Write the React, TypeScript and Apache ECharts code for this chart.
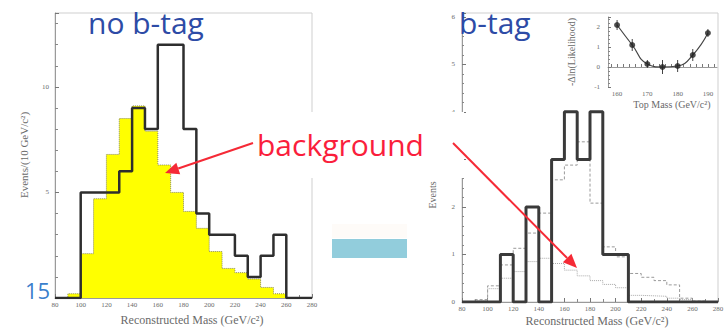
import React, { useEffect, useRef } from "react";
import * as echarts from "echarts";

// Histogram bin edges (GeV/c^2), 10 GeV bins
const binEdges = [80, 90, 100, 110, 120, 130, 140, 150, 160, 170, 180, 190, 200, 210, 220, 230, 240, 250, 260, 270, 280];
// Left panel: no b-tag
const noTagEvents = [0, 0, 5, 5, 5, 6, 9, 8, 12, 12, 8, 4, 3, 3, 2, 1, 2, 3, 0, 0];
const noTagBackground = [0, 0.2, 2.1, 4.7, 6.8, 8.5, 9.1, 7.9, 6.3, 5.0, 4.1, 3.3, 2.2, 1.4, 1.2, 0.9, 0.5, 0.2, 0, 0];
// Right panel: b-tag
const bTagEvents = [0, 0, 0, 1, 0, 2, 0, 3, 4, 3, 4, 1, 1, 0, 0, 0, 0, 0, 0, 0];
const bTagExpected = [0, 0.05, 0.34, 0.78, 1.13, 1.45, 1.87, 2.57, 2.88, 3.37, 2.08, 1.16, 0.95, 0.6, 0.52, 0.45, 0.36, 0.08, 0.02, 0];
const bTagBackground = [0, 0.03, 0.28, 0.5, 0.64, 0.85, 0.92, 0.81, 0.67, 0.55, 0.45, 0.37, 0.3, 0.14, 0.13, 0.12, 0.08, 0.05, 0.02, 0];
// Inset: likelihood scan
const topMass = [160, 165, 170, 175, 180, 185, 190];
const deltaLnL = [2.1, 1.1, 0.15, 0.0, 0.05, 0.6, 1.7];
const deltaLnLErr = [0.25, 0.3, 0.2, 0.35, 0.3, 0.3, 0.2];
const insetMassLabels = [160, 170, 180, 190];
const insetMassTicks = [158, 160, 162, 164, 166, 168, 170, 172, 174, 176, 178, 180, 182, 184, 186, 188, 190, 192];

const stepPoints = (edges: number[], vals: number[]) => [
  ...vals.map((v, i) => [edges[i], v]),
  [edges[vals.length], vals[vals.length - 1]],
];

const SERIF = "'Liberation Serif', 'DejaVu Serif', serif";
const SANS = "'Open Sans', Lato, sans-serif";
const AX = "#9a9a9a";
const LAB = "#6a6a6a";

function arrow(x1: number, y1: number, x2: number, y2: number, color: string) {
  const dx = x2 - x1, dy = y2 - y1;
  const len = Math.sqrt(dx * dx + dy * dy);
  const ux = dx / len, uy = dy / len;
  const hl = 14, hw = 6;
  const bx = x2 - ux * hl, by = y2 - uy * hl;
  const px = -uy * hw, py = ux * hw;
  return [
    { type: "line", z: 101, shape: { x1, y1, x2: bx, y2: by }, style: { stroke: color, lineWidth: 2 } },
    { type: "polygon", z: 101, shape: { points: [[x2, y2], [bx + px, by + py], [bx - px, by - py]] }, style: { fill: color } },
  ];
}

function txt(text: string, x: number, y: number, font: string, fill: string, align = "left", rotation = 0) {
  return {
    type: "text",
    z: 102,
    x,
    y,
    rotation,
    style: { text, font, fill, align, verticalAlign: "middle", textAlign: align, textVerticalAlign: "middle" },
  };
}

function massAxis(gridIndex: number, margin: number) {
  return {
    type: "value",
    gridIndex,
    min: 80,
    max: 280,
    interval: 20,
    axisLine: { show: true, lineStyle: { color: AX, width: 1 } },
    axisTick: { show: true, inside: true, length: 4, lineStyle: { color: "#777" } },
    minorTick: { show: true, splitNumber: 2, length: 3, lineStyle: { color: "#888" } },
    axisLabel: { fontSize: 7, color: LAB, fontFamily: SERIF, margin },
    splitLine: { show: false },
  };
}

export default function App() {
  const ref = useRef<HTMLDivElement>(null);
  useEffect(() => {
    if (!ref.current) return;
    const chart = echarts.init(ref.current, undefined, { renderer: "svg" });
    const option: any = {
      animation: false,
      backgroundColor: "#ffffff",
      grid: [
        { left: 55, top: 13, width: 257, height: 285, show: true, borderColor: "#cfcfcf", borderWidth: 1 },
        { left: 462, top: 13, width: 256, height: 289, show: true, borderColor: "#cfcfcf", borderWidth: 1 },
        { left: 608, top: 17, width: 109, height: 70, show: false },
      ],
      xAxis: [
        massAxis(0, 3),
        massAxis(1, 3),
        {
          type: "value",
          gridIndex: 2,
          min: 157,
          max: 193,
          axisLine: { show: true, lineStyle: { color: AX } },
          axisTick: { show: true, inside: true, length: 3, customValues: insetMassTicks, lineStyle: { color: "#777" } },
          axisLabel: { fontSize: 7, color: LAB, fontFamily: SERIF, margin: 3, customValues: insetMassLabels },
          splitLine: { show: false },
        },
      ],
      yAxis: [
        {
          type: "value",
          gridIndex: 0,
          min: 0,
          max: 13.5,
          interval: 5,
          axisLine: { show: true, lineStyle: { color: AX } },
          axisTick: { show: true, inside: true, length: 4, lineStyle: { color: "#777" } },
          minorTick: { show: true, splitNumber: 5, length: 3, lineStyle: { color: "#888" } },
          axisLabel: {
            fontSize: 7, color: LAB, fontFamily: SERIF, margin: 6,
            formatter: (v: number) => (v > 0 && Math.abs(v % 5) < 1e-6 ? String(v) : ""),
          },
          splitLine: { show: false },
        },
        {
          type: "value",
          gridIndex: 1,
          min: 0,
          max: 6.08,
          interval: 1,
          axisLine: { show: true, lineStyle: { color: AX } },
          axisTick: { show: true, inside: true, length: 4, lineStyle: { color: "#777" } },
          minorTick: { show: true, splitNumber: 5, length: 2, lineStyle: { color: "#888" } },
          axisLabel: {
            fontSize: 7, color: LAB, fontFamily: SERIF, margin: 7,
            formatter: (v: number) => (Math.abs(v - Math.round(v)) < 1e-6 ? String(Math.round(v)) : ""),
          },
          splitLine: { show: false },
        },
        {
          type: "value",
          gridIndex: 2,
          min: -1,
          max: 2.5,
          interval: 1,
          axisLine: { show: true, lineStyle: { color: AX } },
          axisTick: { show: true, inside: true, length: 3, lineStyle: { color: "#777" } },
          minorTick: { show: true, splitNumber: 5, length: 2, lineStyle: { color: "#888" } },
          axisLabel: {
            fontSize: 7, color: LAB, fontFamily: SERIF, margin: 8,
            formatter: (v: number) => (Math.abs(v - Math.round(v)) < 1e-6 ? String(Math.round(v)) : ""),
          },
          splitLine: { show: false },
        },
      ],
      series: [
        {
          type: "line", xAxisIndex: 0, yAxisIndex: 0, step: "end", symbol: "none",
          data: stepPoints(binEdges, noTagBackground),
          lineStyle: { color: "#8a8a5a", width: 1, type: "dotted" },
          areaStyle: { color: "#ffff00", opacity: 1 },
          z: 2,
        },
        {
          type: "line", xAxisIndex: 0, yAxisIndex: 0, step: "end", symbol: "none",
          data: stepPoints(binEdges, noTagEvents),
          lineStyle: { color: "#2e2e2e", width: 2.5 },
          z: 3,
        },
        {
          type: "line", xAxisIndex: 1, yAxisIndex: 1, step: "end", symbol: "none",
          data: stepPoints(binEdges, bTagBackground),
          lineStyle: { color: "#a8a8a8", width: 1, type: "dotted" },
          z: 2,
        },
        {
          type: "line", xAxisIndex: 1, yAxisIndex: 1, step: "end", symbol: "none",
          data: stepPoints(binEdges, bTagExpected),
          lineStyle: { color: "#9a9a9a", width: 1, type: [3, 2] },
          z: 2,
        },
        {
          type: "line", xAxisIndex: 1, yAxisIndex: 1, step: "end", symbol: "none",
          data: stepPoints(binEdges, bTagEvents),
          lineStyle: { color: "#3a3a3a", width: 3 },
          z: 3,
        },
        {
          type: "line", xAxisIndex: 2, yAxisIndex: 2, smooth: true, symbol: "none",
          data: topMass.map((m, i) => [m, deltaLnL[i]]),
          lineStyle: { color: "#444", width: 1.2 },
          z: 3,
        },
        {
          type: "custom", xAxisIndex: 2, yAxisIndex: 2,
          data: topMass.map((m, i) => [m, deltaLnL[i] - deltaLnLErr[i], deltaLnL[i] + deltaLnLErr[i]]),
          encode: { x: 0, y: [1, 2] },
          renderItem: (_p: any, api: any) => {
            const lo = api.coord([api.value(0), api.value(1)]);
            const hi = api.coord([api.value(0), api.value(2)]);
            return {
              type: "line",
              shape: { x1: lo[0], y1: lo[1], x2: hi[0], y2: hi[1] },
              style: { stroke: "#444", lineWidth: 1 },
            };
          },
          z: 4,
        },
        {
          type: "scatter", xAxisIndex: 2, yAxisIndex: 2, symbol: "circle", symbolSize: 6,
          data: topMass.map((m, i) => [m, deltaLnL[i]]),
          itemStyle: { color: "#222" },
          z: 5,
        },
      ],
      graphic: [
        { type: "rect", z: 100, shape: { x: 252, y: 112, width: 212, height: 66 }, style: { fill: "#ffffff" } },
        { type: "rect", z: 100, shape: { x: 332, y: 224, width: 75, height: 14 }, style: { fill: "#fefbf8" } },
        { type: "rect", z: 100, shape: { x: 332, y: 239, width: 75, height: 19 }, style: { fill: "#92cddc" } },
        txt("no b-tag", 88, 22, `30px ${SANS}`, "#2d4ba6"),
        txt("b-tag", 459, 22, `30px ${SANS}`, "#2d4ba6"),
        txt("background", 257, 144, `30px ${SANS}`, "#fa1e3c"),
        txt("15", 25, 290, `22px ${SANS}`, "#3a7fcc"),
        ...arrow(253, 143, 165, 173, "#f52a36"),
        ...arrow(453, 143, 577, 268, "#f52a36"),
        txt("Reconstructed Mass (GeV/c²)", 192, 320, `12px ${SERIF}`, LAB, "center"),
        txt("Reconstructed Mass (GeV/c²)", 597, 321, `12px ${SERIF}`, LAB, "center"),
        txt("Events/(10 GeV/c²)", 24, 155, `11px ${SERIF}`, LAB, "center", Math.PI / 2),
        txt("Events", 432, 195, `10px ${SERIF}`, LAB, "center", Math.PI / 2),
        txt("-Δln(Likelihood)", 571, 52, `10px ${SERIF}`, LAB, "center", Math.PI / 2),
        txt("Top Mass (GeV/c²)", 672, 104, `10px ${SERIF}`, LAB, "center"),
      ],
    };
    chart.setOption(option);
    return () => chart.dispose();
  }, []);
  return (
    <div
      ref={ref}
      style={{ position: "absolute", left: 0, top: 0, width: 728, height: 328 }}
    />
  );
}
